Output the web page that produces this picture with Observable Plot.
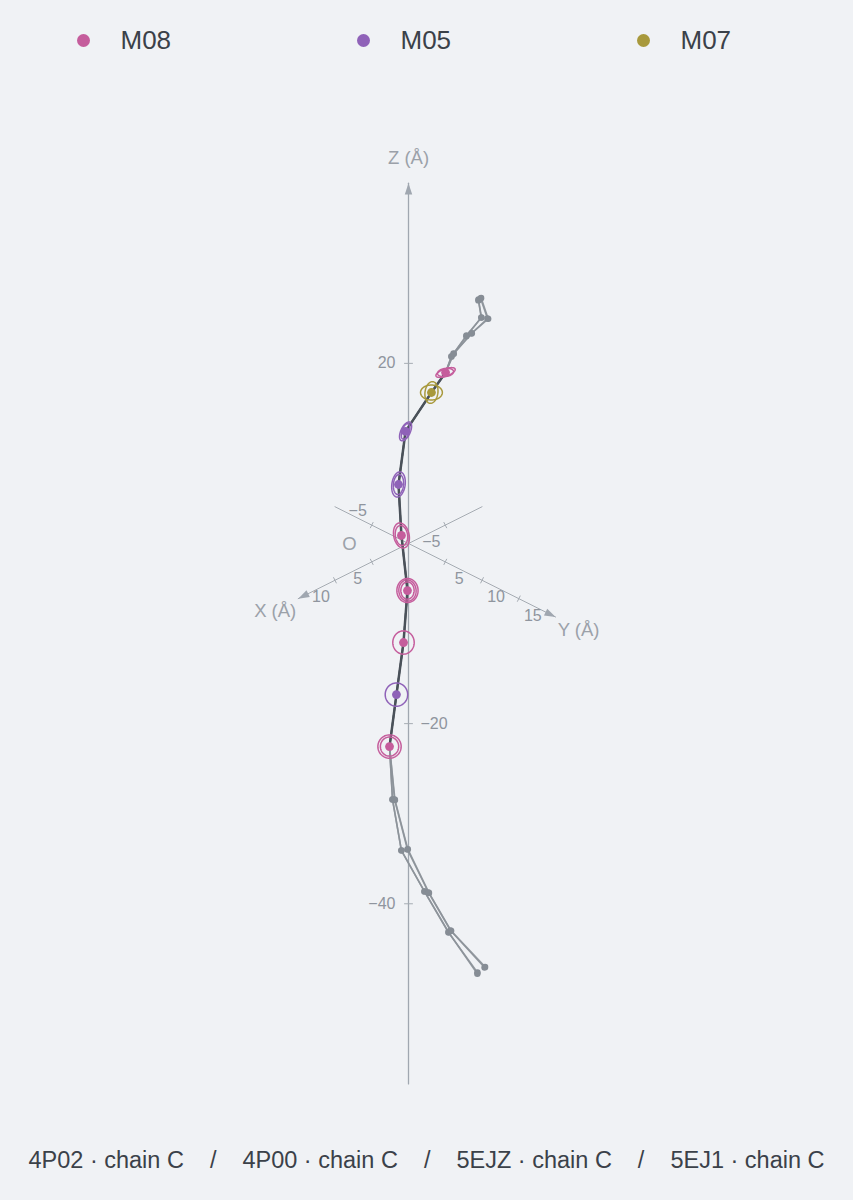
<!DOCTYPE html>
<html>
<head>
<meta charset="utf-8">
<script src="https://cdn.jsdelivr.net/npm/d3@7"></script>
<script src="https://cdn.jsdelivr.net/npm/@observablehq/plot@0.6"></script>
<style>
  html, body { margin: 0; padding: 0; background: #f0f2f5; }
  body { width: 853px; height: 1200px; overflow: hidden; font-family: "Liberation Sans", Arial, sans-serif; }
  #legend { position: relative; height: 80px; }
  .item { position: absolute; top: 0; height: 80px; display: flex; align-items: center; }
  .sw { width: 13px; height: 13px; border-radius: 50%; margin-right: 31px; }
  .lab { font-size: 26px; color: #3b4149; }
  #chart { height: 1040px; }
  #chart svg { display: block; }
  #caption { height: 80px; display: flex; align-items: center; justify-content: center; font-size: 23.5px; color: #3b4149; white-space: pre; }
  .sep { margin: 0 26px; }
</style>
</head>
<body>
<div id="legend"></div>
<div id="chart"></div>
<div id="caption"></div>
<script>
// ---------- data ----------
const motifs = ["M08", "M05", "M07"];
const motifColors = ["#c55d9c", "#8f62b8", "#a8993c"];
const structures = ["4P02 · chain C", "4P00 · chain C", "5EJZ · chain C", "5EJ1 · chain C"];

// core residues (mean Cα positions, Å)
const coreMotif = ["M08", "M07", "M05", "M05", "M08", "M08", "M08", "M05", "M08"];
const coreX = [-0.52, -0.06, 1.20, 1.18, 0.48, -0.43, -0.66, -0.18, 0.29];
const coreY = [4.52, 3.06, 0.80, -0.18, -0.48, -0.57, -1.34, -1.82, -2.29];
const coreZ = [20.62, 17.99, 13.26, 6.96, 0.89, -5.63, -11.81, -17.59, -23.36];

// flanking residues per structure (Å)
const flankTopX = [
  [-0.76, -1.46, -0.94, -0.42],
  [-0.70, -1.40, -0.90, -0.40],
  [-0.90, -1.87, -1.28, -0.56],
  [-0.95, -1.92, -1.31, -0.58]
];
const flankTopY = [
  [8.76, 8.46, 6.94, 5.42],
  [8.80, 8.50, 6.97, 5.44],
  [8.90, 8.87, 7.28, 5.56],
  [8.93, 8.92, 7.30, 5.58]
];
const flankTopZ = [
  [30.36, 27.95, 25.54, 22.80],
  [30.30, 27.98, 25.50, 22.83],
  [30.47, 27.84, 25.77, 23.14],
  [30.52, 27.80, 25.80, 23.10]
];
const flankBotX = [
  [0.09, -0.02, -1.09, -2.22, -3.69],
  [0.12, 0.02, -1.05, -2.18, -3.62],
  [-0.05, -0.43, -1.36, -2.36, -4.17],
  [-0.08, -0.46, -1.40, -2.40, -4.22]
];
const flankBotY = [
  [-2.09, -0.98, 1.09, 3.22, 5.69],
  [-2.05, -0.95, 1.12, 3.25, 5.74],
  [-1.95, -0.57, 1.36, 3.36, 6.17],
  [-1.92, -0.55, 1.39, 3.40, 6.20]
];
const flankBotZ = [
  [-29.24, -34.50, -38.64, -42.78, -46.81],
  [-29.20, -34.45, -38.60, -42.70, -46.90],
  [-29.24, -34.39, -38.75, -42.56, -46.26],
  [-29.30, -34.35, -38.80, -42.60, -46.20]
];

// spread ellipses around core residues (projected radii in Å, tilt in degrees)
const ringRes   = [0, 0, 1, 1, 2, 2, 3, 3, 4, 4, 5, 5, 5, 6, 7, 8, 8];
const ringRx    = [0.98, 0.78, 1.05, 0.62, 0.45, 0.35, 0.64, 0.49, 0.74, 0.59, 1.02, 0.83, 0.64, 1.03, 1.08, 1.12, 0.88];
const ringRy    = [0.35, 0.39, 0.72, 1.05, 0.98, 0.78, 1.22, 0.97, 1.22, 0.97, 1.16, 1.02, 0.83, 1.12, 1.12, 1.12, 0.92];
const ringAngle = [-20, -8, 0, 8, 25, 18, 8, 5, -12, -8, 0, -5, 0, 0, 0, 0, 0];

// axes
const xAxisRange = [-10, 15];
const yAxisRange = [-10, 20];
const zAxisRange = [-60, 40];
const xTicks = [-5, 5, 10];
const yTicks = [-5, 5, 10, 15];
const zTicks = [20, -20, -40];

// ---------- projection ----------
const PX = 10.4;                       // px per Å
const C45 = Math.SQRT1_2, C30 = Math.cos(Math.PI / 6), S30 = 0.5;
function proj(X, Y, Z) {
  return { u: (Y - X) * C45, v: Z * C30 - (X + Y) * C45 * S30 };
}
const colorOf = m => motifColors[motifs.indexOf(m)];
const fmt = t => String(t).replace("-", "\u2212");

// structure traces
const structPts = [];
structures.forEach((s, si) => {
  flankTopX[si].forEach((_, i) => structPts.push({ s, flank: true, ...proj(flankTopX[si][i], flankTopY[si][i], flankTopZ[si][i]) }));
  coreX.forEach((_, i) => structPts.push({ s, flank: false, ...proj(coreX[i], coreY[i], coreZ[i]) }));
  flankBotX[si].forEach((_, i) => structPts.push({ s, flank: true, ...proj(flankBotX[si][i], flankBotY[si][i], flankBotZ[si][i]) }));
});
const corePts = coreX.map((_, i) => ({ motif: coreMotif[i], color: colorOf(coreMotif[i]), ...proj(coreX[i], coreY[i], coreZ[i]) }));

// ellipse outlines
const ringPts = [];
ringRes.forEach((ri, k) => {
  const c = corePts[ri], th = ringAngle[k] * Math.PI / 180;
  for (let j = 0; j < 64; j++) {
    const t = j / 64 * 2 * Math.PI;
    const ex = ringRx[k] * Math.cos(t), ey = ringRy[k] * Math.sin(t);
    const sx = ex * Math.cos(th) - ey * Math.sin(th);
    const sy = ex * Math.sin(th) + ey * Math.cos(th);
    ringPts.push({ ring: k, color: c.color, u: c.u + sx, v: c.v - sy });
  }
});

// axis geometry
const axisLinesXY = [
  { axis: "X", ...proj(xAxisRange[0], 0, 0) }, { axis: "X", ...proj(xAxisRange[1], 0, 0) },
  { axis: "Y", ...proj(0, yAxisRange[0], 0) }, { axis: "Y", ...proj(0, yAxisRange[1], 0) }
];
const axisLineZ = [proj(0, 0, zAxisRange[0]), proj(0, 0, zAxisRange[1])];
const unit = { X: proj(1, 0, 0), Y: proj(0, 1, 0), Z: proj(0, 0, 1) };
const norm = d => { const l = Math.hypot(d.u, d.v); return { u: d.u / l, v: d.v / l }; };
const rotOf = d => Math.atan2(d.u, d.v) * 180 / Math.PI;
const heads = [
  { ...proj(xAxisRange[1], 0, 0), rot: rotOf(unit.X) },
  { ...proj(0, yAxisRange[1], 0), rot: rotOf(unit.Y) },
  { ...proj(0, 0, zAxisRange[1]), rot: rotOf(unit.Z) }
];
const tickSegs = [];
function addTick(id, c, dir, half) {
  const n = norm(dir), p = { u: -n.v, v: n.u };
  tickSegs.push({ id, u: c.u - p.u * half, v: c.v - p.v * half });
  tickSegs.push({ id, u: c.u + p.u * half, v: c.v + p.v * half });
}
xTicks.forEach(t => addTick("x" + t, proj(t, 0, 0), unit.X, 3 / PX));
yTicks.forEach(t => addTick("y" + t, proj(0, t, 0), unit.Y, 3 / PX));
zTicks.forEach(t => addTick("z" + t, proj(0, 0, t), unit.Z, 4 / PX));

const xLabels = xTicks.map(t => ({ t: fmt(t), ...proj(t, 0, 0) }));
const yLabels = yTicks.map(t => ({ t: fmt(t), neg: t < 0, ...proj(0, t, 0) }));
// Z tick labels go on the side away from the trace
const tracePts = structPts.filter(d => d.s === structures[0]);
const zLabels = zTicks.map(t => {
  const p = proj(0, 0, t);
  const near = tracePts.reduce((a, b) => Math.abs(b.v - p.v) < Math.abs(a.v - p.v) ? b : a);
  return { t: fmt(t), left: near.u > 0, ...p };
});
const origin = [proj(0, 0, 0)];
const axisNames = {
  X: [{ t: "X (Å)", ...proj(xAxisRange[1], 0, 0) }],
  Y: [{ t: "Y (Å)", ...proj(0, yAxisRange[1], 0) }],
  Z: [{ t: "Z (Å)", ...proj(0, 0, zAxisRange[1]) }]
};

const arrowSymbol = {
  draw(ctx, size) {
    const r = Math.sqrt(size / Math.PI);
    ctx.moveTo(0, 0);
    ctx.lineTo(r * 0.6, r * 1.8);
    ctx.lineTo(-r * 0.6, r * 1.8);
    ctx.closePath();
  }
};

// ---------- chart ----------
const W = 853, H = 1040, OX = 408, OY = 463;
const TICK = "#8f959e", AX = "#a6acb3", NAME = "#9ba1a9";
const chart = Plot.plot({
  width: W, height: H, margin: 0,
  x: { domain: [-OX / PX, (W - OX) / PX], axis: null },
  y: { domain: [-(H - OY) / PX, OY / PX], axis: null },
  style: { background: "transparent", fontFamily: '"Liberation Sans", Arial, sans-serif' },
  marks: [
    Plot.line(axisLinesXY, { x: "u", y: "v", z: "axis", stroke: AX, strokeWidth: 1 }),
    Plot.line(axisLineZ, { x: "u", y: "v", stroke: "#a0a7b0", strokeWidth: 1.3 }),
    Plot.line(tickSegs, { x: "u", y: "v", z: "id", stroke: AX, strokeWidth: 1 }),
    Plot.dot(heads, { x: "u", y: "v", r: 6.2, symbol: arrowSymbol, rotate: "rot", fill: "#a0a7b0" }),
    Plot.text(xLabels, { x: "u", y: "v", text: "t", dx: -14, dy: 17, fill: TICK, fontSize: 16 }),
    Plot.text(yLabels.filter(d => !d.neg), { x: "u", y: "v", text: "t", dx: 14, dy: 17, fill: TICK, fontSize: 16 }),
    Plot.text(yLabels.filter(d => d.neg), { x: "u", y: "v", text: "t", dx: -14, dy: -14, fill: TICK, fontSize: 16 }),
    Plot.text(zLabels.filter(d => d.left), { x: "u", y: "v", text: "t", dx: -13, textAnchor: "end", fill: TICK, fontSize: 16 }),
    Plot.text(zLabels.filter(d => !d.left), { x: "u", y: "v", text: "t", dx: 12, textAnchor: "start", fill: TICK, fontSize: 16 }),
    Plot.text(origin, { x: "u", y: "v", text: () => "O", dx: -59, dy: 1, fill: NAME, fontSize: 18.5 }),
    Plot.text(axisNames.X, { x: "u", y: "v", text: "t", dx: -23, dy: 12, fill: NAME, fontSize: 18.5 }),
    Plot.text(axisNames.Y, { x: "u", y: "v", text: "t", dx: 23, dy: 13, fill: NAME, fontSize: 18.5 }),
    Plot.text(axisNames.Z, { x: "u", y: "v", text: "t", dy: -25, fill: NAME, fontSize: 18.5 }),
    // structure traces
    Plot.line(structPts, { x: "u", y: "v", z: "s", stroke: "#8c9299", strokeWidth: 1.6, strokeOpacity: 0.9 }),
    Plot.dot(structPts.filter(d => d.flank), { x: "u", y: "v", r: 3.2, fill: "#868d95" }),
    // core trace
    Plot.line(corePts, { x: "u", y: "v", stroke: "#4a5159", strokeWidth: 2.5 }),
    Plot.line(ringPts, { x: "u", y: "v", z: "ring", stroke: "color", strokeWidth: 1.5, curve: "linear-closed" }),
    Plot.dot(corePts, { x: "u", y: "v", r: 4.4, fill: "color" })
  ]
});
document.getElementById("chart").appendChild(chart);

// ---------- legend ----------
const legend = document.getElementById("legend");
motifs.forEach((m, i) => {
  const it = document.createElement("div");
  it.className = "item";
  it.style.left = (76.5 + 280 * i) + "px";
  it.innerHTML = `<span class="sw" style="background:${motifColors[i]}"></span><span class="lab">${m}</span>`;
  legend.appendChild(it);
});

// ---------- caption ----------
const cap = document.getElementById("caption");
structures.forEach((s, i) => {
  if (i > 0) { const sp = document.createElement("span"); sp.className = "sep"; sp.textContent = "/"; cap.appendChild(sp); }
  const t = document.createElement("span"); t.textContent = s; cap.appendChild(t);
});
</script>
</body>
</html>
